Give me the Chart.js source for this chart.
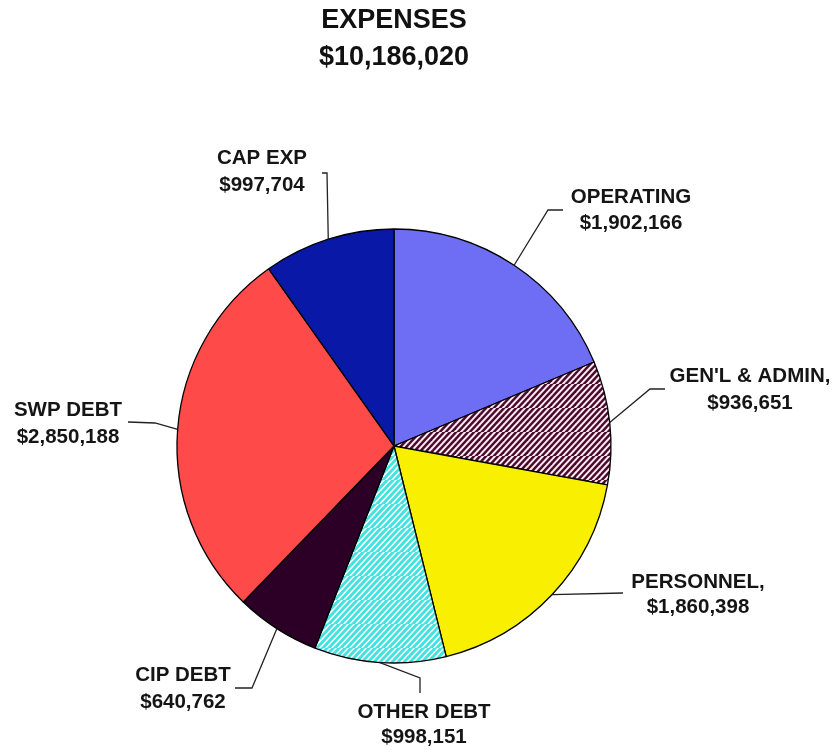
<!DOCTYPE html>
<html>
<head>
<meta charset="utf-8">
<script src="https://cdn.jsdelivr.net/npm/chart.js@4.4.1/dist/chart.umd.min.js"></script>
<style>
  html, body { margin: 0; padding: 0; background: #fff; }
  #wrap { width: 838px; height: 754px; }
</style>
</head>
<body>
<div id="wrap"><canvas id="c" width="838" height="754"></canvas></div>
<script>
// ---- data ----
const categories = ["OPERATING", "GEN'L & ADMIN,", "PERSONNEL,", "OTHER DEBT", "CIP DEBT", "SWP DEBT", "CAP EXP"];
const amounts = [1902166, 936651, 1860398, 998151, 640762, 2850188, 997704];
const valueLabels = ["$1,902,166", "$936,651", "$1,860,398", "$998,151", "$640,762", "$2,850,188", "$997,704"];
const titleLines = ["EXPENSES", "$10,186,020"];

// ---- styling / label layout (offsets from pie centre) ----
const FONT = "'Liberation Sans', Arial, Helvetica, sans-serif";
const labelLayout = [
  { pts: [[154, -236], [169, -236]], tx: 237, ty: [-249, -223] },
  { pts: [[256, -57], [271, -57]], tx: 356, ty: [-70, -43] },
  { pts: [[229, 147]], tx: 304, ty: [136, 161] },
  { pts: [[26, 232], [26, 247]], tx: 30, ty: [266, 291] },
  { pts: [[-142, 242], [-159, 242]], tx: -211, ty: [229, 256] },
  { pts: [[-239, -23], [-266, -24]], tx: -326, ty: [-36, -9] },
  { pts: [[-67, -273], [-72, -273]], tx: -132, ty: [-288, -261] }
];

function stripePattern(bg, fg, period, width) {
  const s = period * 4;
  const cv = document.createElement('canvas');
  cv.width = s; cv.height = s;
  const g = cv.getContext('2d');
  g.fillStyle = bg; g.fillRect(0, 0, s, s);
  g.strokeStyle = fg; g.lineWidth = width;
  // "/" diagonal stripes: lines where x + y = const
  for (let k = -s; k <= 2 * s; k += period) {
    g.beginPath();
    g.moveTo(k - s, s + s);
    g.lineTo(k + s, -s + s - s + s - s);
    g.stroke();
  }
  return g.createPattern(cv, 'repeat');
}
function diag(bg, fg, period, width) {
  const s = period * 4;
  const cv = document.createElement('canvas');
  cv.width = s; cv.height = s;
  const g = cv.getContext('2d');
  g.fillStyle = bg; g.fillRect(0, 0, s, s);
  g.strokeStyle = fg; g.lineWidth = width;
  for (let k = -2 * s; k <= 3 * s; k += period) {
    g.beginPath();
    g.moveTo(k, s + 2);      // bottom-left
    g.lineTo(k + s + 2, -2); // top-right
    g.stroke();
  }
  return g.createPattern(cv, 'repeat');
}

const colors = [
  '#6E6EF4',
  diag('#FBEAF2', '#4A0A2C', 6, 2.4),
  '#F8F000',
  diag('#3FE3E0', '#FFFFFF', 6, 1.6),
  '#2C0026',
  '#FF4A4A',
  '#0A18A8'
];

const labelPlugin = {
  id: 'leaderLabels',
  afterDatasetsDraw(chart) {
    const ctx = chart.ctx;
    const meta = chart.getDatasetMeta(0);
    ctx.save();
    meta.data.forEach((arc, i) => {
      const cx = arc.x, cy = arc.y, r = arc.outerRadius;
      const mid = (arc.startAngle + arc.endAngle) / 2;
      const ex = cx + r * Math.cos(mid), ey = cy + r * Math.sin(mid);
      const L = labelLayout[i];
      ctx.strokeStyle = '#222';
      ctx.lineWidth = 1.3;
      ctx.beginPath();
      ctx.moveTo(ex, ey);
      L.pts.forEach(p => ctx.lineTo(cx + p[0], cy + p[1]));
      ctx.stroke();
      ctx.fillStyle = '#151515';
      ctx.font = 'bold 20.5px ' + FONT;
      ctx.textAlign = 'center';
      ctx.textBaseline = 'middle';
      ctx.fillText(categories[i], cx + L.tx, cy + L.ty[0]);
      ctx.fillText(valueLabels[i], cx + L.tx, cy + L.ty[1]);
    });
    ctx.restore();
  }
};

new Chart(document.getElementById('c'), {
  type: 'pie',
  data: {
    labels: categories,
    datasets: [{
      data: amounts,
      backgroundColor: colors,
      borderColor: '#000',
      borderWidth: 1.3,
      hoverOffset: 0
    }]
  },
  options: {
    responsive: false,
    animation: false,
    radius: 217,
    layout: { padding: { left: 0, right: 50, top: 0, bottom: 0 } },
    plugins: {
      legend: { display: false },
      tooltip: { enabled: false },
      title: {
        display: true,
        text: titleLines,
        color: '#111',
        font: { family: FONT, size: 27, weight: 'bold', lineHeight: 1.37 },
        padding: { top: 2, bottom: 62 }
      }
    }
  },
  plugins: [labelPlugin]
});
</script>
</body>
</html>
